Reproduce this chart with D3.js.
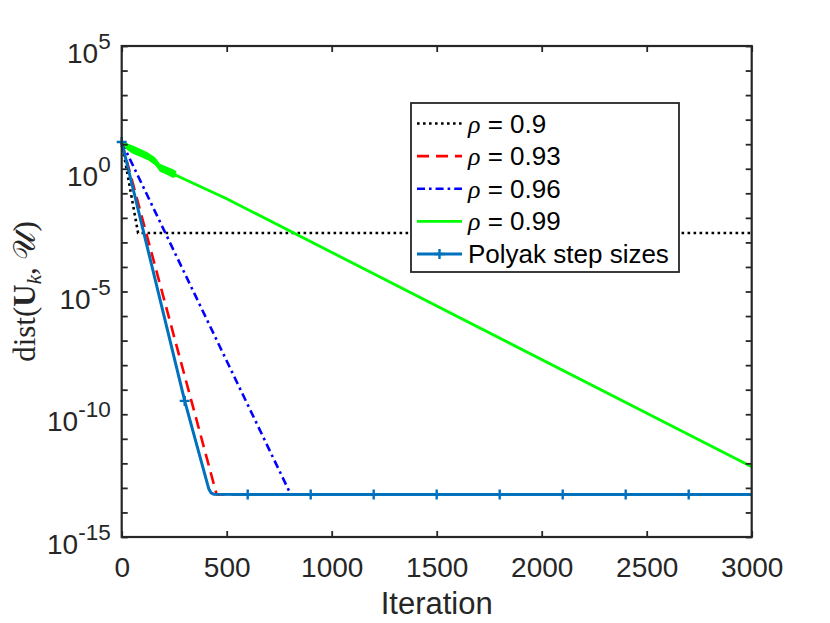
<!DOCTYPE html>
<html>
<head>
<meta charset="utf-8">
<script src="https://cdn.jsdelivr.net/npm/d3@7"></script>
<style>
	body { margin: 0; background: #fff; }
	svg { display: block; font-family: "Liberation Sans", Arial, Helvetica, sans-serif; }
</style>
</head>
<body>
<div id="chart"></div>
<script>
// values (iteration, dist)
var rho09Iter = [0, 78, 3000];
var rho09Val = [12.3, 2.4e-3, 2.4e-3];
var rho093Iter = [0, 452, 3000];
var rho093Val = [12.3, 5.4e-14, 5.4e-14];
var rho096Iter = [0, 805, 3000];
var rho096Val = [12.3, 5.4e-14, 5.4e-14];
var rho099Iter = [0, 125, 182, 245, 500, 3000];
var rho099Val = [12.3, 3.3, 1.07, 0.61, 0.06, 7.3e-13];
// spread of the noisy start of rho = 0.99
var rho099NoiseIter = [0, 20, 50, 90, 125, 160, 182, 210, 245, 260];
var rho099NoiseHi = [12.3, 11.0, 9.0, 6.4, 4.6, 2.9, 1.6, 1.25, 0.95, 0.8];
var rho099NoiseLo = [12.3, 6.4, 4.2, 3.0, 2.2, 1.4, 0.75, 0.6, 0.42, 0.5];
var polyakIter = [0, 300, 415, 425, 440, 600, 900, 1200, 1500, 1800, 2100, 2400, 2700, 3000];
var polyakVal = [12.3, 3.5e-10, 9e-14, 6.3e-14, 5.5e-14, 5.4e-14, 5.4e-14, 5.4e-14, 5.4e-14, 5.4e-14, 5.4e-14, 5.4e-14, 5.4e-14, 5.4e-14];
var polyakMarkIter = [0, 300, 600, 900, 1200, 1500, 1800, 2100, 2400, 2700];

var xTicks = [0, 500, 1000, 1500, 2000, 2500, 3000];
var yTickExp = [5, 4, 3, 2, 1, 0, -1, -2, -3, -4, -5, -6, -7, -8, -9, -10, -11, -12, -13, -14, -15];
var yLabelExp = [5, 0, -5, -10, -15];
var legendLabels = ["0.9", "0.93", "0.96", "0.99"];

var W = 830, H = 623;
var m = {left: 121.7, top: 46, width: 630, height: 491};
var ink = "#262626";

var svg = d3.select("#chart").append("svg")
	.attr("width", W)
	.attr("height", H);

var g = svg.append("g")
	.attr("transform", `translate(${m.left}, ${m.top})`);

var x = d3.scaleLinear().domain([0, 3000]).range([0, m.width]);
var y = d3.scaleLog().domain([1e-15, 1e5]).range([m.height, 0]);

function zip(a, b) {
	return a.map((v, i) => [v, b[i]]);
}

var plotG = g.append("g");

var line = d3.line().x(d => x(d[0])).y(d => y(d[1]));

var series = [
	{data: zip(rho09Iter, rho09Val), color: "#000000", width: 2.6, dash: "2.6,3.4"},
	{data: zip(rho093Iter, rho093Val), color: "#ff0000", width: 2.6, dash: "12,7"},
	{data: zip(rho096Iter, rho096Val), color: "#0000ff", width: 2.6, dash: "8,4,2.6,4"},
];

series.forEach((s) => {
	plotG.append("path")
		.attr("d", line(s.data))
		.attr("fill", "none")
		.attr("stroke", s.color)
		.attr("stroke-width", s.width)
		.attr("stroke-dasharray", s.dash);
});

// noisy band of rho = 0.99
var area = d3.area()
	.x(d => x(d[0]))
	.y0(d => y(d[1]))
	.y1(d => y(d[2]));
plotG.append("path")
	.attr("d", area(rho099NoiseIter.map((v, i) => [v, rho099NoiseLo[i], rho099NoiseHi[i]])))
	.attr("fill", "#00ff00")
	.attr("stroke", "none");

plotG.append("path")
	.attr("d", line(zip(rho099Iter, rho099Val)))
	.attr("fill", "none")
	.attr("stroke", "#00ff00")
	.attr("stroke-width", 2.8);

plotG.append("path")
	.attr("d", line(zip(polyakIter, polyakVal)))
	.attr("fill", "none")
	.attr("stroke", "#0072bd")
	.attr("stroke-width", 3)
	.attr("stroke-linejoin", "round");

// plus markers every 300 iterations
function plus(sel, cx, cy, r) {
	sel.append("path")
		.attr("d", `M${cx - r},${cy}H${cx + r}M${cx},${cy - r}V${cy + r}`)
		.attr("stroke", "#0072bd")
		.attr("stroke-width", 2.4)
		.attr("fill", "none");
}
polyakMarkIter.forEach((it) => {
	var v = polyakVal[polyakIter.indexOf(it)];
	plus(plotG, x(it), y(v), 5);
});

// axes box with inward ticks on all sides
var tick = 6;
var xAxisB = d3.axisBottom(x).tickValues(xTicks).tickSizeInner(-tick).tickSizeOuter(0)
	.tickPadding(20).tickFormat(d3.format("d"));
var xAxisT = d3.axisTop(x).tickValues(xTicks).tickSizeInner(-tick).tickSizeOuter(0).tickFormat("");
var yVals = yTickExp.map(e => Math.pow(10, e));
var yAxisL = d3.axisLeft(y).tickValues(yVals).tickSizeInner(-tick).tickSizeOuter(0).tickFormat("");
var yAxisR = d3.axisRight(y).tickValues(yVals).tickSizeInner(-tick).tickSizeOuter(0).tickFormat("");

var gx = g.append("g").attr("transform", `translate(0, ${m.height})`).call(xAxisB);
gx.selectAll("text")
	.attr("font-size", 28)
	.attr("fill", ink)
	.attr("font-family", "Liberation Sans, Arial, sans-serif");
g.append("g").call(xAxisT);
g.append("g").call(yAxisL);
g.append("g").attr("transform", `translate(${m.width}, 0)`).call(yAxisR);

g.selectAll(".domain").remove();
g.selectAll(".tick line").attr("stroke", ink).attr("stroke-width", 1.8);

g.append("rect")
	.attr("width", m.width)
	.attr("height", m.height)
	.attr("fill", "none")
	.attr("stroke", ink)
	.attr("stroke-width", 2.2);

// y tick labels as 10^n
var yl = g.append("g").selectAll("text")
	.data(yLabelExp)
	.join("text")
	.attr("text-anchor", "end")
	.attr("fill", ink)
	.attr("x", -11)
	.attr("y", d => y(Math.pow(10, d)) + 17);
yl.append("tspan").attr("font-size", 28).text("10");
yl.append("tspan").attr("font-size", 22.5).attr("dy", -14).text(d => d);

// axis titles
svg.append("text")
	.attr("x", m.left + m.width / 2)
	.attr("y", 614)
	.attr("text-anchor", "middle")
	.attr("font-size", 31)
	.attr("fill", ink)
	.text("Iteration");

var yt = svg.append("text")
	.attr("transform", `translate(35, ${m.top + m.height / 2}) rotate(-90)`)
	.attr("text-anchor", "middle")
	.attr("font-family", "Liberation Serif, DejaVu Serif, serif")
	.attr("font-size", 31)
	.attr("fill", ink);
yt.append("tspan").text("dist(");
yt.append("tspan").attr("font-weight", "bold").text("U");
yt.append("tspan").attr("font-style", "italic").attr("font-size", 21).attr("dy", 6).text("k");
yt.append("tspan").attr("dy", -6).text(", ");
yt.append("tspan").attr("font-family", "DejaVu Sans, serif").text("\u{1D4B0}");
yt.append("tspan").text(")");

// legend
var lg = svg.append("g");
lg.append("rect")
	.attr("x", 411).attr("y", 103)
	.attr("width", 268).attr("height", 169)
	.attr("fill", "#fff")
	.attr("stroke", ink)
	.attr("stroke-width", 1.8);

var legendItems = series.concat([{color: "#00ff00", width: 2.8, dash: null}, {color: "#0072bd", width: 3, dash: null, marker: true}]);
var rowY = d3.scaleLinear().domain([0, 4]).range([123.5, 254]);
legendItems.forEach((s, i) => {
	var cy = rowY(i);
	lg.append("line")
		.attr("x1", 417).attr("x2", 462)
		.attr("y1", cy).attr("y2", cy)
		.attr("stroke", s.color)
		.attr("stroke-width", s.width)
		.attr("stroke-dasharray", s.dash);
	if (s.marker) plus(lg, 439.5, cy, 5);
	var t = lg.append("text")
		.attr("x", 468)
		.attr("y", cy + 9)
		.attr("font-size", 26)
		.attr("fill", "#000");
	if (i < legendLabels.length) {
		t.append("tspan").attr("font-family", "Liberation Serif, DejaVu Serif, serif").attr("font-style", "italic").text("\u03c1");
		t.append("tspan").text(" = " + legendLabels[i]);
	} else {
		t.text("Polyak step sizes");
	}
});
</script>
</body>
</html>
